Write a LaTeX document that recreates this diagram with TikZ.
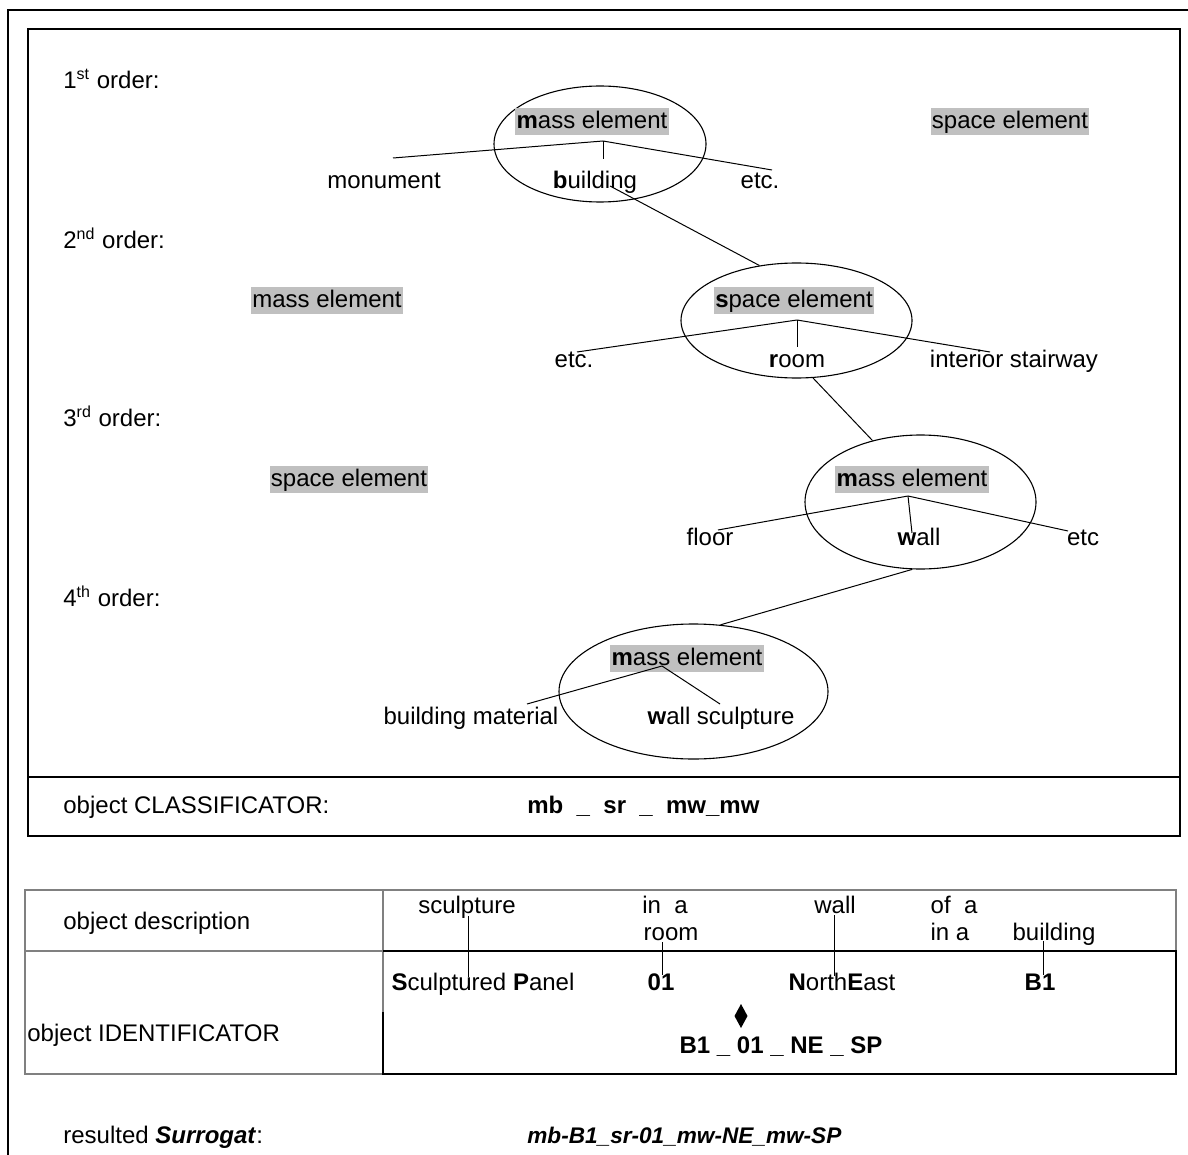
\documentclass[tikz,border=0pt]{standalone}
\usepackage{fontspec}
\setmainfont{Liberation Sans}
\usetikzlibrary{shapes.geometric}
\definecolor{hlgray}{RGB}{192,192,192}
\definecolor{rulegray}{RGB}{128,128,128}

\begin{document}
\begin{tikzpicture}[
  x=0.5pt, y=-0.5pt,
  font=\fontsize{12}{14}\selectfont,
  lbl/.style={inner sep=0pt, text height=8.6pt, text depth=2.5pt, yshift=-1pt},
  hl/.style={fill=hlgray, inner xsep=0.6pt, inner ysep=0.4pt,
    text height=9.6pt, text depth=2.9pt, yshift=-0.8pt},
  elli/.style={draw, ellipse, line width=0.55pt, inner sep=0pt},
  br/.style={line width=0.5pt},
  frame/.style={line width=0.8pt},
  tbl/.style={draw=rulegray, line width=0.8pt},
  blk/.style={draw=black, line width=1pt}
]
  \useasboundingbox (0,0) rectangle (1188,1155);
  % frames
  \draw[frame] (8,1155) -- (8,10) -- (1188,10);
  \draw[frame] (28,29) rectangle (1180,836);
  \draw[frame] (28,777) -- (1180,777);

  % 1st order
  \node[lbl, anchor=west] (ord1) at (63,80) {1\textsuperscript{st} order:};
  \node[elli, minimum width=106pt, minimum height=58pt] (e1) at (600,144) {};
  \node[hl] (m1) at (592,120) {\textbf{m}ass element};
  \node[hl] (s1) at (1010,120) {space element};
  \node[lbl] (mon) at (384,180) {monument};
  \node[lbl] (bld) at (595,180) {\textbf{b}uilding};
  \node[lbl] (etc1) at (760,180) {etc.};
  \coordinate (r1) at (603,141);
  \coordinate (r1a) at (393,158);
  \coordinate (r1b) at (603,159);
  \coordinate (r1c) at (772,170);
  \foreach \e in {r1a,r1b,r1c} \draw[br] (r1) -- (\e);

  % 2nd order
  \node[lbl, anchor=west] (ord2) at (63,240) {2\textsuperscript{nd} order:};
  \node[hl] (m2) at (327,299) {mass element};
  \node[elli, minimum width=115.5pt, minimum height=57.5pt] (e2) at (796.5,320.5) {};
  \node[hl] (s2) at (794,299) {\textbf{s}pace element};
  \node[lbl] (etc2) at (574,359) {etc.};
  \node[lbl] (room) at (797,359) {\textbf{r}oom};
  \node[lbl] (stair) at (1014,359) {interior stairway};
  \coordinate (r2) at (797,320);
  \coordinate (r2a) at (577,352);
  \coordinate (r2b) at (797,347);
  \coordinate (r2c) at (990,352);
  \foreach \e in {r2a,r2b,r2c} \draw[br] (r2) -- (\e);

  % 3rd order
  \node[lbl, anchor=west] (ord3) at (63,418) {3\textsuperscript{rd} order:};
  \node[hl] (s3) at (349,478) {space element};
  \node[elli, minimum width=115.5pt, minimum height=67pt] (e3) at (920.5,502) {};
  \node[hl] (m3) at (912,478) {\textbf{m}ass element};
  \node[lbl] (floor) at (710,537) {floor};
  \node[lbl] (wall) at (919,537) {\textbf{w}all};
  \node[lbl] (etc3) at (1083,537) {etc};
  \coordinate (r3) at (908,496);
  \coordinate (r3a) at (718,530);
  \coordinate (r3b) at (912,533);
  \coordinate (r3c) at (1068,531);
  \foreach \e in {r3a,r3b,r3c} \draw[br] (r3) -- (\e);

  % 4th order
  \node[lbl, anchor=west] (ord4) at (63,598) {4\textsuperscript{th} order:};
  \node[elli, minimum width=134.5pt, minimum height=67.5pt] (e4) at (693.5,691.5) {};
  \node[hl] (m4) at (687,657) {\textbf{m}ass element};
  \node[lbl] (bmat) at (471,716) {building material};
  \node[lbl] (wsc) at (721,716) {\textbf{w}all sculpture};
  \coordinate (r4) at (662,666);
  \coordinate (r4a) at (527,704);
  \coordinate (r4b) at (720,704);
  \foreach \e in {r4a,r4b} \draw[br] (r4) -- (\e);

  % links between the orders
  \coordinate (bld-foot) at (610,186);
  \draw[br] (bld-foot) -- (e2.124);
  \draw[br] (e2.286) -- (e3.128);
  \draw[br] (e3.263) -- (e4.68);

  % classificator
  \node[lbl, anchor=west] (clsl) at (63,805) {object CLASSIFICATOR:};
  \node[lbl, anchor=west] (clsv) at (527,805)
    {\textbf{mb\ \ \_\ \ sr\ \ \_\ \ mw\_mw}};

  % identificator table
  \draw[tbl] (25,890) rectangle (1176,1074);
  \draw[tbl] (25,951) -- (383,951);
  \draw[tbl] (383,890) -- (383,1074);
  \draw[blk] (383,951) -- (1176,951) -- (1176,1074) -- (383,1074) -- (383,1012);
  \node[lbl, anchor=west] (odesc) at (63,921) {object description};
  \node[lbl, anchor=west] (oident) at (27,1033) {object IDENTIFICATOR};
  \node[lbl] (dscu) at (467,905) {sculpture};
  \node[lbl] (dina) at (665,905) {in\ \ a};
  \node[lbl] (droom) at (671,932) {room};
  \node[lbl] (dwall) at (835,905) {wall};
  \node[lbl] (dofa) at (954,905) {of\ \ a};
  \node[lbl] (dinb) at (950,932) {in a};
  \node[lbl] (dbld) at (1054,932) {building};
  \node[lbl] (isp) at (483,982) {\textbf{S}culptured \textbf{P}anel};
  \node[lbl] (i01) at (661,982) {\textbf{01}};
  \node[lbl] (ine) at (842,982) {\textbf{N}orth\textbf{E}ast};
  \node[lbl] (ib1) at (1040,982) {\textbf{B1}};
  \fill (741,1004) -- (747.5,1016) -- (741,1028) -- (734.5,1016) -- cycle;
  \node[lbl] (icode) at (781,1045) {\textbf{B1 \_ 01 \_ NE \_ SP}};
  \coordinate (k1a) at (468,916);  \coordinate (k1b) at (468,977);
  \coordinate (k2a) at (662,942);  \coordinate (k2b) at (662,975);
  \coordinate (k3a) at (834,915);  \coordinate (k3b) at (834,976);
  \coordinate (k4a) at (1043,941); \coordinate (k4b) at (1043,975);
  \foreach \k in {k1,k2,k3,k4} \draw[br] (\k a) -- (\k b);

  % surrogat
  \node[lbl, anchor=west] (surl) at (63,1135) {resulted \textbf{\textit{Surrogat}}:};
  \node[lbl, anchor=west, font=\fontsize{11.3}{14}\selectfont] (surv) at (527,1135)
    {\textbf{\textit{mb-B1\_sr-01\_mw-NE\_mw-SP}}};
\end{tikzpicture}
\end{document}
